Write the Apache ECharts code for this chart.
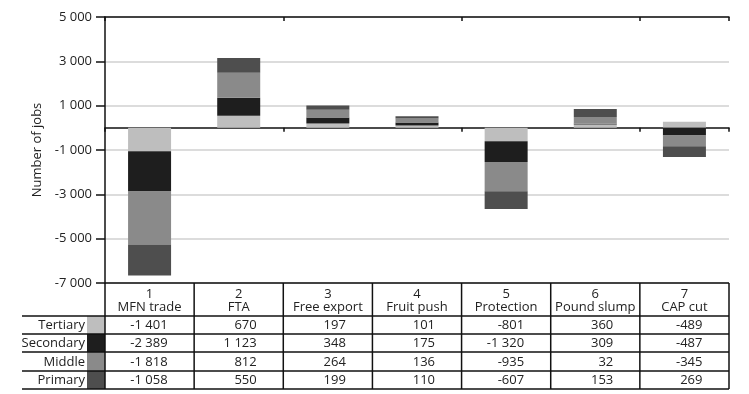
<!DOCTYPE html>
<html><head><meta charset="utf-8">
<script src="https://cdn.jsdelivr.net/npm/echarts@6/dist/echarts.min.js"></script>
<style>html,body{margin:0;padding:0;background:#fff}#c{width:749px;height:394px}</style>
</head><body><div id="c"></div>
<script>
var categoryNums = ['1','2','3','4','5','6','7'];
var categoryNames = ['MFN trade','FTA','Free export','Fruit push','Protection','Pound slump','CAP cut'];
var seriesNames = ['Tertiary','Secondary','Middle','Primary'];
var tertiary  = [-1401, 670, 197, 101, -801, 360, -489];
var secondary = [-2389, 1123, 348, 175, -1320, 309, -487];
var middle    = [-1818, 812, 264, 136, -935, 32, -345];
var primary   = [-1058, 550, 199, 110, -607, 153, 269];
var yMin = -7000, yMax = 5000, yStep = 2000;

var seriesData = [tertiary, secondary, middle, primary];
var swatchColors = ['#bebebe', '#1e1e1e', '#8a8a8a', '#4e4e4e'];
// the bars are stacked from zero outwards: Primary, Middle, Secondary, Tertiary
var stackOrder = [3, 2, 1, 0];
var FONT = 'Open Sans';
var TXT = '#222';

function fmt(v) {
  var s = Math.abs(v).toString();
  var out = '';
  while (s.length > 3) { out = ' ' + s.slice(-3) + out; s = s.slice(0, -3); }
  out = s + out;
  return (v < 0 ? '-' : '') + out;
}

var chart = echarts.init(document.getElementById('c'), null, {renderer: 'canvas'});
var GL = 105, GR = 729, GT = 17, GB = 283;
var option = {
  animation: false,
  backgroundColor: '#fff',
  grid: {left: GL, right: 749 - GR, top: GT, bottom: 394 - GB, containLabel: false},
  xAxis: [{
    type: 'category', data: categoryNames,
    axisLine: {onZero: true, lineStyle: {color: '#111', width: 1.5}},
    axisTick: {show: true, length: 4, lineStyle: {color: '#111', width: 1.5}},
    axisLabel: {show: false}, splitLine: {show: false}
  }, {
    type: 'category', data: categoryNames,
    axisLine: {onZero: true, lineStyle: {color: '#111', width: 1.5}},
    axisTick: {show: true, inside: true, length: 4, lineStyle: {color: '#111', width: 1.5}},
    axisLabel: {show: false}, splitLine: {show: false}
  }],
  yAxis: {
    type: 'value', min: yMin, max: yMax, interval: yStep,
    name: 'Number of jobs', nameLocation: 'middle', nameGap: 58, nameRotate: 90,
    nameTextStyle: {fontFamily: FONT, fontSize: 13, color: TXT},
    axisLine: {show: true, lineStyle: {color: '#111', width: 1.5}},
    axisTick: {show: true, length: 9, lineStyle: {color: '#111', width: 1.5}},
    axisLabel: {margin: 13, fontFamily: FONT, fontSize: 13, color: TXT, formatter: function (v) { return fmt(v); }},
    splitLine: {show: true, lineStyle: {color: '#dcdcdc', width: 2}}
  },
  series: stackOrder.map(function (idx, j) {
    return {
      name: seriesNames[idx], type: 'bar', stack: 'total', xAxisIndex: 0,
      data: seriesData[idx], barWidth: 43,
      itemStyle: {color: swatchColors[j]}
    };
  })
};
chart.setOption(option);

// Data table below the plot
var rowTops = [316, 334, 352, 371, 389];
var tableTop = GB;
var colEdges = [];
for (var k = 0; k <= categoryNames.length; k++) {
  colEdges.push(GL + (GR - GL) * k / categoryNames.length);
}
var els = [];
function line(x1, y1, x2, y2) {
  els.push({type: 'line', silent: true, shape: {x1: x1, y1: y1, x2: x2, y2: y2},
    style: {stroke: '#111', lineWidth: 1.5}, z: 100});
}
line(GL, tableTop, GR, tableTop);
rowTops.forEach(function (y) { line(22, y, GR, y); });
colEdges.forEach(function (x) { line(x, tableTop, x, rowTops[rowTops.length - 1]); });

categoryNames.forEach(function (name, i) {
  var cx = chart.convertToPixel({xAxisIndex: 0}, i);
  els.push({type: 'text', silent: true, z: 101,
    style: {text: categoryNums[i] + '\n' + name, x: cx, y: (tableTop + rowTops[0]) / 2 + 1.5,
      textAlign: 'center', textVerticalAlign: 'middle', lineHeight: 13,
      fontFamily: FONT, fontSize: 13, fill: TXT}});
  seriesData.forEach(function (arr, r) {
    els.push({type: 'text', silent: true, z: 101,
      style: {text: fmt(arr[i]), x: cx + 18, y: (rowTops[r] + rowTops[r + 1]) / 2 + 0.5,
        textAlign: 'right', textVerticalAlign: 'middle',
        fontFamily: FONT, fontSize: 13, fill: TXT}});
  });
});
seriesNames.forEach(function (n, r) {
  var y0 = rowTops[r], y1 = rowTops[r + 1];
  els.push({type: 'rect', silent: true, z: 99,
    shape: {x: 87, y: y0, width: GL - 87, height: y1 - y0},
    style: {fill: swatchColors[r]}});
  els.push({type: 'text', silent: true, z: 101,
    style: {text: n, x: 85, y: (y0 + y1) / 2 + 0.5, textAlign: 'right', textVerticalAlign: 'middle',
      fontFamily: FONT, fontSize: 13, fill: TXT}});
});
chart.setOption({graphic: {elements: els}});
</script>
</body></html>
